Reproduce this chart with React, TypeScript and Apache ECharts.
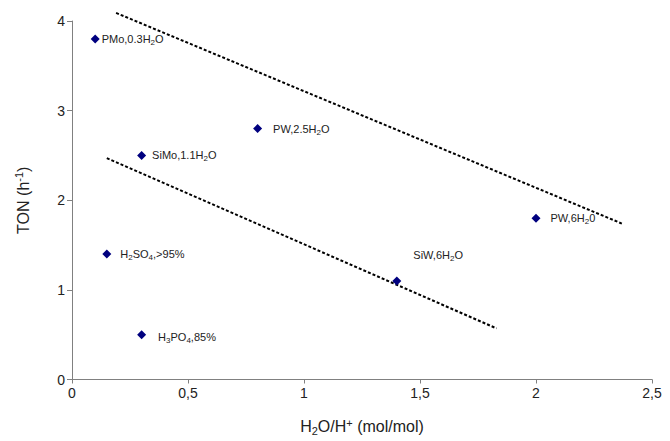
import React, { useEffect, useRef } from "react";
import * as echarts from "echarts";

// Scatter data (H2O/H+ ratio vs TON)
const pointLabels = [
  "PMo,0.3H{sub|2}O",
  "PW,2.5H{sub|2}O",
  "SiMo,1.1H{sub|2}O",
  "H{sub|2}SO{sub|4},>95%",
  "H{sub|3}PO{sub|4},85%",
  "PW,6H{sub|2}0",
  "SiW,6H{sub|2}O",
];
const xValues = [0.1, 0.8, 0.3, 0.15, 0.3, 2.0, 1.4];
const yValues = [3.8, 2.8, 2.5, 1.4, 0.5, 1.8, 1.1];

// Dashed trend lines (end points)
const upperTrendX = [0.19, 2.37];
const upperTrendY = [4.09, 1.74];
const lowerTrendX = [0.15, 1.83];
const lowerTrendY = [2.47, 0.57];

// Axis tick labels
const xTickLabels: Record<string, string> = { "0": "0", "0.5": "0,5", "1": "1", "1.5": "1,5", "2": "2", "2.5": "2,5" };
const yTickLabels: Record<string, string> = { "0": "0", "1": "1", "2": "2", "3": "3", "4": "4" };

const FONT = "'Liberation Sans', Arial, sans-serif";

const richSmall = {
  sub: { fontSize: 8, lineHeight: 8, padding: [7, 0, 0, 0], fontFamily: FONT, color: "#222" },
  sup: { fontSize: 8, lineHeight: 8, padding: [0, 0, 7, 0], fontFamily: FONT, color: "#222" },
};
const richBig = {
  sub: { fontSize: 11, lineHeight: 11, padding: [8, 0, 0, 0], fontFamily: FONT, color: "#222" },
  sup: { fontSize: 11, lineHeight: 11, padding: [0, 0, 8, 0], fontFamily: FONT, color: "#222" },
};

// label placement per point (style only)
const labelStyles: any[] = [
  { distance: 2, offset: [0, 0] },
  { distance: 11, offset: [0, 0] },
  { distance: 6, offset: [0, 0] },
  { distance: 9, offset: [0, 0] },
  { distance: 12, offset: [0, 2] },
  { distance: 10, offset: [0, 0] },
  { distance: 10, offset: [2, -26] },
];

export default function App() {
  const ref = useRef<HTMLDivElement>(null);
  useEffect(() => {
    document.body.style.margin = "0";
    if (!ref.current) return;
    const chart = echarts.init(ref.current, undefined, { renderer: "svg" });
    const scatterData = xValues.map((x, i) => ({
      value: [x, yValues[i]],
      label: {
        show: true,
        position: "right",
        formatter: pointLabels[i],
        distance: labelStyles[i].distance,
        offset: labelStyles[i].offset,
        fontSize: 11,
        fontFamily: FONT,
        color: "#222",
        rich: richSmall,
      },
    }));
    const axisLine = { show: true, lineStyle: { color: "#808080", width: 1 } };
    chart.setOption({
      animation: false,
      backgroundColor: "#fff",
      grid: { left: 72, right: 18, top: 21, bottom: 61 },
      xAxis: {
        type: "value",
        min: 0,
        max: 2.5,
        interval: 0.5,
        splitLine: { show: false },
        axisLine,
        axisTick: { show: true, length: 4, lineStyle: { color: "#808080" } },
        axisLabel: {
          fontSize: 14,
          fontFamily: FONT,
          color: "#222",
          margin: 6,
          formatter: (v: number) => xTickLabels[String(v)] ?? String(v),
        },
        name: "H{sub|2}O/H{sup|+} (mol/mol)",
        nameLocation: "middle",
        nameGap: 39,
        nameTextStyle: { fontSize: 16, fontFamily: FONT, color: "#222", rich: richBig },
      },
      yAxis: {
        type: "value",
        min: 0,
        max: 4,
        interval: 1,
        splitLine: { show: false },
        axisLine,
        axisTick: { show: true, length: 5, lineStyle: { color: "#808080" } },
        axisLabel: {
          fontSize: 14,
          fontFamily: FONT,
          color: "#222",
          margin: 7,
          formatter: (v: number) => yTickLabels[String(v)] ?? String(v),
        },
        name: "TON (h{sup|-1})",
        nameLocation: "middle",
        nameGap: 41,
        nameRotate: 90,
        nameTextStyle: { fontSize: 16, fontFamily: FONT, color: "#222", rich: richBig },
      },
      series: [
        {
          type: "line",
          data: upperTrendX.map((x, i) => [x, upperTrendY[i]]),
          symbol: "none",
          clip: false,
          lineStyle: { color: "#000", width: 2, type: [3, 2] },
          z: 1,
        },
        {
          type: "line",
          data: lowerTrendX.map((x, i) => [x, lowerTrendY[i]]),
          symbol: "none",
          clip: false,
          lineStyle: { color: "#000", width: 2, type: [3, 2] },
          z: 1,
        },
        {
          type: "scatter",
          data: scatterData,
          symbol: "diamond",
          symbolSize: 9,
          itemStyle: { color: "#00007f", opacity: 1 },
          z: 3,
        },
      ],
    });
    return () => chart.dispose();
  }, []);
  return <div ref={ref} style={{ width: 670, height: 441 }} />;
}
